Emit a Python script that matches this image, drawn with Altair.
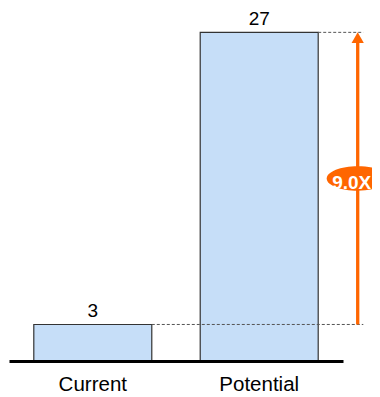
import altair as alt
import pandas as pd

categories = ["Current", "Potential"]
values = [3, 27]

ratio_label = f"{values[1] / values[0]:.1f}X"
mid_value = (values[0] + values[1]) / 2

bars_df = pd.DataFrame({"cat": categories, "value": values})
guide_df = pd.DataFrame({"cat": categories, "end": [categories[1]] * 2, "value": values})
arrow_df = pd.DataFrame({
    "cat": [categories[1]],
    "lo": [values[0]],
    "hi": [values[1]],
    "mid": [mid_value],
    "label": [ratio_label],
})

ORANGE = "#FF6600"
FONT = "Liberation Sans"
ARROW_DX = 39.5

xscale = alt.Scale(paddingInner=0.291, paddingOuter=0.149)
yscale = alt.Scale(domain=[0, 29], nice=False, zero=True)

bars = alt.Chart(bars_df).mark_bar(
    fill="#C6DEF8", stroke="#333333", strokeWidth=1.2
).encode(
    x=alt.X("cat:N", sort=categories, scale=xscale,
            axis=alt.Axis(title=None, ticks=False, tickSize=0, domainColor="black",
                          domainWidth=3, labelFont=FONT, labelFontSize=20.5,
                          labelColor="black", labelPadding=29, labelBaseline="alphabetic",
                          labelAngle=0, grid=False, zindex=1)),
    y=alt.Y("value:Q", scale=yscale, axis=None),
)

value_labels = alt.Chart(bars_df).mark_text(
    font=FONT, fontSize=19, color="black", baseline="alphabetic", dy=-7
).encode(
    x=alt.X("cat:N", sort=categories),
    y=alt.Y("value:Q"),
    text=alt.Text("value:Q"),
)

dashes = alt.Chart(guide_df).mark_rule(
    color="#555555", strokeWidth=1, strokeDash=[3, 2], x2Offset=45.1
).encode(
    x=alt.X("cat:N", sort=categories, bandPosition=1),
    x2=alt.X2("end:N", bandPosition=1),
    y=alt.Y("value:Q"),
)

arrow_line = alt.Chart(arrow_df).mark_rule(
    color=ORANGE, strokeWidth=3.3, xOffset=ARROW_DX, y2Offset=8
).encode(
    x=alt.X("cat:N", sort=categories, bandPosition=1),
    y=alt.Y("lo:Q"),
    y2=alt.Y2("hi:Q"),
)

arrow_head = alt.Chart(arrow_df).mark_point(
    shape="triangle-up", size=150, filled=True, color=ORANGE, opacity=1,
    strokeWidth=0, xOffset=ARROW_DX, yOffset=5.3
).encode(
    x=alt.X("cat:N", sort=categories, bandPosition=1),
    y=alt.Y("hi:Q"),
)

ellipse_path = ("M-1,0C-1,-0.218 -0.552,-0.395 0,-0.395C0.552,-0.395 1,-0.218 1,0"
                "C1,0.218 0.552,0.395 0,0.395C-0.552,0.395 -1,0.218 -1,0Z")

badge = alt.Chart(arrow_df).mark_point(
    shape=ellipse_path, size=3844, filled=True, color=ORANGE, opacity=1,
    strokeWidth=0, xOffset=ARROW_DX
).encode(
    x=alt.X("cat:N", sort=categories, bandPosition=1),
    y=alt.Y("mid:Q"),
)

badge_text = alt.Chart(arrow_df).mark_text(
    font=FONT, fontSize=19, fontWeight="bold", color="white",
    baseline="alphabetic", align="center", dy=11, xOffset=ARROW_DX - 6
).encode(
    x=alt.X("cat:N", sort=categories, bandPosition=1),
    y=alt.Y("mid:Q"),
    text=alt.Text("label:N"),
)

chart = alt.layer(
    bars, dashes, value_labels, arrow_line, arrow_head, badge, badge_text
).properties(
    width=334,
    height=353,
    autosize=alt.AutoSizeParams(type="none"),
    padding={"left": 1, "top": 0, "right": 29, "bottom": 32},
    background="white",
).configure_view(stroke=None)

chart.save("out.html", embed_options={"renderer": "svg", "actions": False})
